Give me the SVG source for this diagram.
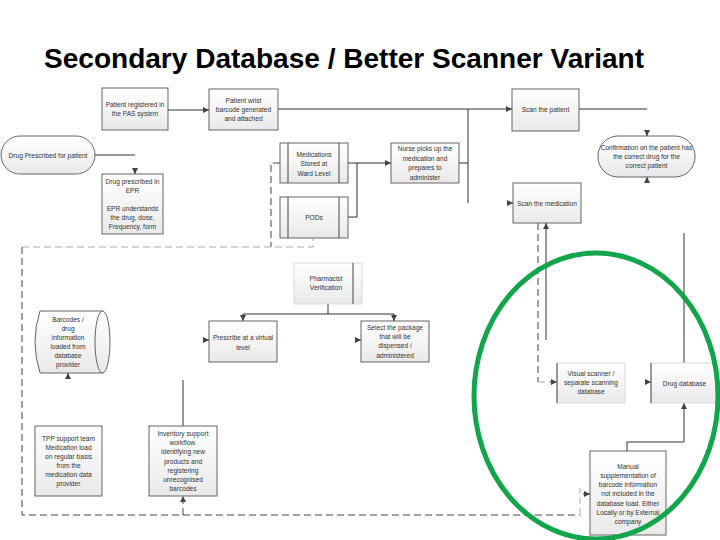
<svg xmlns="http://www.w3.org/2000/svg" width="720" height="540" viewBox="0 0 720 540">
<style>
.box{fill:url(#g);stroke:#555;stroke-width:0.9}
.lbox{fill:url(#g);stroke:#d8d8d8;stroke-width:0.9}
.dk{stroke:#444;stroke-width:1;fill:none}
.t{font-family:"Liberation Sans",Arial,sans-serif;font-size:6.6px;fill:#333;text-anchor:middle}
.title{font-family:"Liberation Sans",Arial,sans-serif;font-size:27.5px;font-weight:bold;fill:#000}
.c{stroke:#333;stroke-width:1;fill:none}
.d{stroke:#444;stroke-width:1;fill:none;stroke-dasharray:7,4}
.dl{stroke:#aaa;stroke-width:1;fill:none;stroke-dasharray:7,4}
.a{marker-end:url(#ar)}
</style>
<defs>
<linearGradient id="g" x1="0" y1="0" x2="0" y2="1"><stop offset="0" stop-color="#ffffff"/><stop offset="1" stop-color="#e9e9e9"/></linearGradient>
<marker id="ar" markerWidth="6" markerHeight="6" refX="6" refY="3" orient="auto" markerUnits="userSpaceOnUse"><path d="M0,0 L6,3 L0,6 z" fill="#444"/></marker>
</defs>
<rect width="720" height="540" fill="#fff"/>
<text class="title" x="44" y="68" textLength="600" lengthAdjust="spacingAndGlyphs">Secondary Database / Better Scanner Variant</text>

<g id="connectors">
<path class="c a" d="M168,110 H209"/>
<path class="c a" d="M278,109 H512"/>
<path class="c" d="M468,109 V203"/>
<path class="c" d="M459,163 H468"/>
<path class="c" d="M579,109 H647"/>
<path class="c a" d="M647,130 V136"/>
<path class="c a" d="M647,183 V177"/>
<path class="c" d="M95,155 H135"/>
<path class="c a" d="M135,168 V174"/>
<path class="c a" d="M348,163 H391"/>
<path class="c" d="M348,217 H357 V163"/>
<path class="d" d="M280,163 H271 V247"/>
<path class="dl" d="M22,247 H313 V238"/>
<path class="d" d="M22,247 V515 H580"/>
<path class="dl" d="M580,515 V488"/>
<path class="c a" d="M583,494 H590"/>
<path class="d a" d="M183,515 V496"/>
<path class="c" d="M183,380 V426"/>
<path class="c a" d="M68,379 V373"/>
<path class="c" d="M328,304 V314 M243,314 H394"/>
<path class="c a" d="M243,314 V321"/>
<path class="c a" d="M394,314 V321"/>
<path class="c a" d="M203,340 H209"/>
<path class="c a" d="M355,340 H361"/>
<path class="c a" d="M507,203 H513"/>
<path class="d" d="M538,223 V382"/>
<path class="dl" d="M538,382 H550"/>
<path class="c a" d="M550,382 H557"/>
<path class="c a" d="M546,340 V223"/>
<path class="c" d="M684,233 V363"/>
<path class="c a" d="M645,382 H651"/>
<path class="c a" d="M627,451 V442 H684 V403"/>
</g>

<g id="n-pas"><rect class="box" x="102" y="88" width="66" height="42"/>
<text class="t"><tspan x="135" y="107">Patient registered in</tspan><tspan x="135" y="116">the PAS system</tspan></text></g>

<g id="n-wrist"><rect class="box" x="209" y="89" width="69" height="41"/>
<text class="t"><tspan x="243.5" y="103">Patient wrist</tspan><tspan x="243.5" y="112">barcode generated</tspan><tspan x="243.5" y="121">and attached</tspan></text></g>

<g id="n-scanpatient"><rect class="box" x="512" y="89" width="67" height="42"/>
<text class="t" x="545.5" y="112">Scan the patient</text></g>

<g id="n-confirm"><rect class="box" x="598" y="136" width="97" height="41" rx="20" ry="20"/>
<text class="t"><tspan x="646.5" y="150">Confirmation on the patient has</tspan><tspan x="646.5" y="159">the correct drug for the</tspan><tspan x="646.5" y="168">correct patient</tspan></text></g>

<g id="n-prescribed"><rect class="box" x="1" y="136" width="94" height="38" rx="19" ry="19"/>
<text class="t" x="48" y="157.5">Drug Prescribed for patient</text></g>

<g id="n-epr"><rect class="box" x="102" y="174" width="61" height="60"/>
<text class="t"><tspan x="132.5" y="183.5">Drug prescribed in</tspan><tspan x="132.5" y="192.5">EPR</tspan><tspan x="132.5" y="210.5">EPR understands</tspan><tspan x="132.5" y="219.5">the drug, dose,</tspan><tspan x="132.5" y="228.5">Frequency, form</tspan></text></g>

<g id="n-ward"><rect class="box" x="280" y="143" width="68" height="40"/>
<path class="dk" d="M288,143 V183 M339,143 V183"/>
<text class="t"><tspan x="314" y="156.5">Medications</tspan><tspan x="314" y="165.5">Stored at</tspan><tspan x="314" y="175.5">Ward Level</tspan></text></g>

<g id="n-pods"><rect class="box" x="280" y="197" width="68" height="41"/>
<path class="dk" d="M288,197 V238 M339,197 V238"/>
<text class="t" x="314" y="220">PODs</text></g>

<g id="n-nurse"><rect class="box" x="391" y="143" width="68" height="40"/>
<text class="t"><tspan x="425" y="150.5">Nurse picks up the</tspan><tspan x="425" y="160.5">medication and</tspan><tspan x="425" y="170">prepares to</tspan><tspan x="425" y="179.5">administer</tspan></text></g>

<g id="n-pharm"><rect class="lbox" x="294" y="263" width="68" height="41"/>
<path class="dk" d="M353,263 V304"/>
<text class="t"><tspan x="326" y="280.5">Pharmacist</tspan><tspan x="326" y="290">Verification</tspan></text></g>

<g id="n-virtual"><rect class="box" x="209" y="321" width="68" height="41"/>
<text class="t"><tspan x="243" y="339.5">Prescribe at a virtual</tspan><tspan x="243" y="349.5">level</tspan></text></g>

<g id="n-select"><rect class="box" x="361" y="321" width="68" height="41"/>
<text class="t"><tspan x="395" y="329.5">Select the package</tspan><tspan x="395" y="338.5">that will be</tspan><tspan x="395" y="348">dispensed /</tspan><tspan x="395" y="357.5">administered</tspan></text></g>

<g id="n-barcodes"><path d="M40,311 H102.5 V373 H40 Q30,342 40,311 z" fill="url(#g)" stroke="#555" stroke-width="0.9"/>
<ellipse cx="102.5" cy="342" rx="7.5" ry="31" fill="url(#g)" stroke="#555" stroke-width="0.9"/>
<text class="t"><tspan x="68" y="321.5">Barcodes /</tspan><tspan x="68" y="330.5">drug</tspan><tspan x="68" y="339.5">information</tspan><tspan x="68" y="348.5">loaded from</tspan><tspan x="68" y="357.5">database</tspan><tspan x="68" y="366.5">provider</tspan></text></g>

<g id="n-tpp"><rect class="box" x="35" y="426" width="67" height="70"/>
<text class="t"><tspan x="68.5" y="440.5">TPP support team</tspan><tspan x="68.5" y="449.6">Medication load</tspan><tspan x="68.5" y="458.7">on regular basis</tspan><tspan x="68.5" y="467.8">from the</tspan><tspan x="68.5" y="476.9">medication data</tspan><tspan x="68.5" y="486">provider</tspan></text></g>

<g id="n-inventory"><rect class="box" x="149" y="426" width="68" height="70"/>
<text class="t"><tspan x="183" y="436">Inventory support</tspan><tspan x="183" y="445.2">workflow.</tspan><tspan x="183" y="454.4">Identifying new</tspan><tspan x="183" y="463.6">products and</tspan><tspan x="183" y="472.8">registering</tspan><tspan x="183" y="482">unrecognised</tspan><tspan x="183" y="491.2">barcodes</tspan></text></g>

<g id="n-scanmed"><rect class="box" x="513" y="183" width="68" height="40"/>
<text class="t" x="547" y="205.5">Scan the medication</text></g>

<g id="n-visual"><rect class="lbox" x="557" y="363" width="68" height="40"/>
<path class="dk" d="M557,363 V403"/>
<text class="t"><tspan x="591" y="376">Visual scanner /</tspan><tspan x="591" y="385">separate scanning</tspan><tspan x="591" y="394">database</tspan></text></g>

<g id="n-drugdb"><rect class="lbox" x="651" y="363" width="67" height="40"/>
<path class="dk" d="M651,363 V403"/>
<text class="t" x="684.5" y="385.5">Drug database</text></g>

<g id="n-manual"><rect class="box" x="590" y="451" width="76" height="84"/>
<text class="t"><tspan x="628" y="468.5">Manual</tspan><tspan x="628" y="477.8">supplementation of</tspan><tspan x="628" y="487.1">barcode information</tspan><tspan x="628" y="496.4">not included in the</tspan><tspan x="628" y="505.7">database load. Either</tspan><tspan x="628" y="515">Locally or by External</tspan><tspan x="628" y="524.3">company</tspan></text></g>

<ellipse id="highlight" cx="596" cy="396" rx="122" ry="143" fill="none" stroke="#13a54b" stroke-width="5"/>
</svg>
